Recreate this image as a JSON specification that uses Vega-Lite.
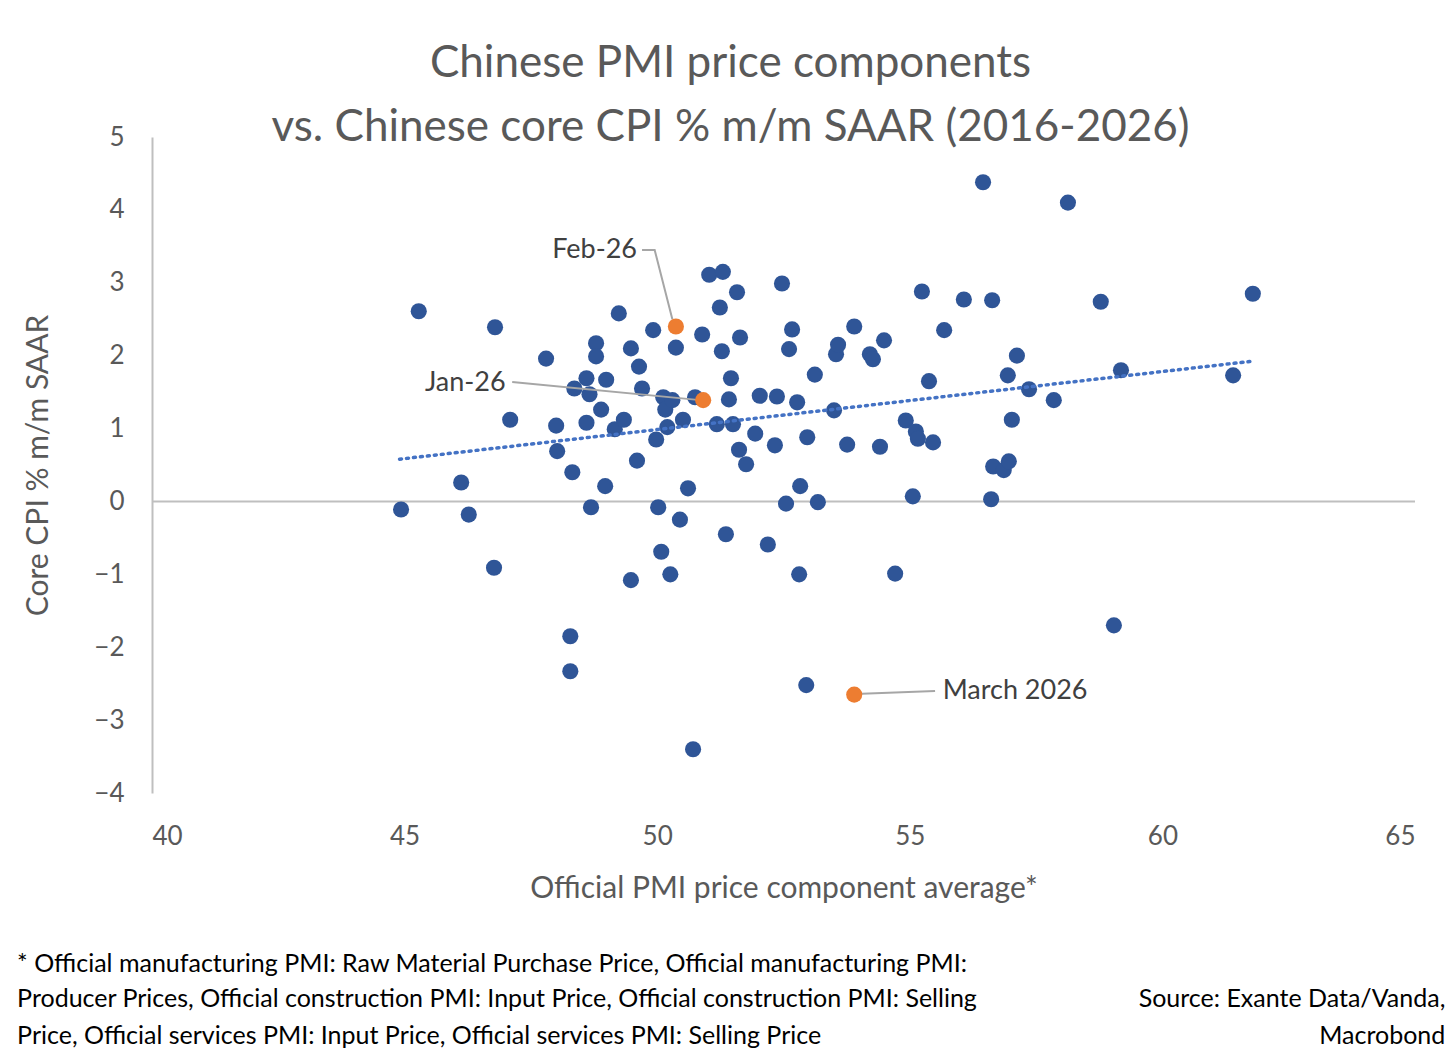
{
  "$schema": "https://vega.github.io/schema/vega-lite/v6.json",
  "width": 1263,
  "height": 656,
  "autosize": {"type": "none"},
  "padding": {"left": 152, "top": 137, "right": 41, "bottom": 261},
  "background": "white",
  "config": {"view": {"stroke": null}, "font": "Lato"},
  "title": {
    "text": ["Chinese PMI price components", "vs. Chinese core CPI % m/m SAAR (2016-2026)"],
    "fontSize": 44, "fontWeight": "normal", "color": "#595959",
    "lineHeight": 64, "anchor": "middle", "dx": -53, "offset": -26, "font": "Lato"
  },
  "datasets": {
    "pts": [
      {"x":44.93,"y":-0.11},{"x":45.28,"y":2.61},{"x":46.12,"y":0.26},{"x":46.27,"y":-0.18},{"x":46.77,"y":-0.91},
      {"x":46.79,"y":2.39},{"x":47.09,"y":1.12},{"x":47.8,"y":1.96},{"x":48.0,"y":1.04},{"x":48.02,"y":0.69},
      {"x":48.28,"y":-1.85},{"x":48.28,"y":-2.33},{"x":48.32,"y":0.4},{"x":48.36,"y":1.55},{"x":48.6,"y":1.69},
      {"x":48.6,"y":1.08},{"x":48.66,"y":1.47},{"x":48.69,"y":-0.08},{"x":48.79,"y":2.17},{"x":48.79,"y":1.99},
      {"x":48.89,"y":1.26},{"x":48.99,"y":1.67},{"x":48.97,"y":0.21},{"x":49.16,"y":0.99},{"x":49.24,"y":2.58},
      {"x":49.34,"y":1.12},{"x":49.48,"y":2.1},{"x":49.48,"y":-1.08},{"x":49.6,"y":0.56},{"x":49.64,"y":1.85},
      {"x":49.7,"y":1.55},{"x":49.92,"y":2.35},{"x":49.98,"y":0.85},{"x":50.02,"y":-0.08},{"x":50.08,"y":-0.69},
      {"x":50.12,"y":1.43},{"x":50.16,"y":1.26},{"x":50.2,"y":1.02},{"x":50.26,"y":-1.0},{"x":50.3,"y":1.39},
      {"x":50.37,"y":2.11},{"x":50.45,"y":-0.25},{"x":50.51,"y":1.12},{"x":50.61,"y":0.18},{"x":50.71,"y":-3.4},
      {"x":50.75,"y":1.43},{"x":50.89,"y":2.29},{"x":51.03,"y":3.11},{"x":51.18,"y":1.06},{"x":51.24,"y":2.66},
      {"x":51.28,"y":2.06},{"x":51.3,"y":3.15},{"x":51.36,"y":-0.45},{"x":51.42,"y":1.4},{"x":51.46,"y":1.69},
      {"x":51.5,"y":1.06},{"x":51.58,"y":2.87},{"x":51.64,"y":2.25},{"x":51.62,"y":0.71},{"x":51.76,"y":0.51},
      {"x":51.94,"y":0.93},{"x":52.03,"y":1.45},{"x":52.19,"y":-0.59},{"x":52.33,"y":0.77},{"x":52.37,"y":1.44},
      {"x":52.47,"y":2.99},{"x":52.55,"y":-0.03},{"x":52.61,"y":2.09},{"x":52.67,"y":2.36},{"x":52.77,"y":1.36},
      {"x":52.81,"y":-1.0},{"x":52.83,"y":0.21},{"x":52.95,"y":-2.52},{"x":52.97,"y":0.88},{"x":53.12,"y":1.74},
      {"x":53.18,"y":-0.01},{"x":53.5,"y":1.25},{"x":53.54,"y":2.02},{"x":53.58,"y":2.15},{"x":53.76,"y":0.78},
      {"x":53.9,"y":2.4},{"x":54.21,"y":2.02},{"x":54.27,"y":1.95},{"x":54.41,"y":0.75},{"x":54.49,"y":2.21},
      {"x":54.71,"y":-0.99},{"x":54.92,"y":1.11},{"x":55.06,"y":0.07},{"x":55.12,"y":0.96},{"x":55.16,"y":0.86},
      {"x":55.24,"y":2.88},{"x":55.38,"y":1.65},{"x":55.46,"y":0.81},{"x":55.68,"y":2.35},{"x":56.07,"y":2.77},
      {"x":56.45,"y":4.38},{"x":56.61,"y":0.03},{"x":56.63,"y":2.76},{"x":56.65,"y":0.48},{"x":56.86,"y":0.43},
      {"x":56.94,"y":1.73},{"x":56.96,"y":0.55},{"x":57.02,"y":1.12},{"x":57.12,"y":2.0},{"x":57.36,"y":1.54},
      {"x":57.85,"y":1.39},{"x":58.13,"y":4.1},{"x":58.78,"y":2.74},{"x":59.04,"y":-1.7},{"x":59.18,"y":1.8},
      {"x":61.4,"y":1.73},{"x":61.79,"y":2.85}
    ],
    "recent": [
      {"x":50.37,"y":2.4},{"x":50.91,"y":1.39},{"x":53.9,"y":-2.65}
    ],
    "trend": [{"x":44.9,"y":0.58},{"x":61.73,"y":1.92}],
    "leaders": [
      {"g":"feb","o":1,"x":49.7,"y":3.45},{"g":"feb","o":2,"x":49.95,"y":3.45},{"g":"feb","o":3,"x":50.3,"y":2.5},
      {"g":"jan","o":1,"x":47.13,"y":1.64},{"g":"jan","o":2,"x":50.85,"y":1.39},
      {"g":"mar2","o":1,"x":55.5,"y":-2.6},{"g":"mar2","o":2,"x":54.05,"y":-2.64}
    ],
    "labelsLeft": [
      {"t":"March 2026","x":55.65,"y":-2.6}
    ],
    "labelsRight": [
      {"t":"Feb-26","x":49.6,"y":3.45},
      {"t":"Jan-26","x":47.0,"y":1.62}
    ],
    "notesLeft": [
      {"t":"* Official manufacturing PMI: Raw Material Purchase Price, Official manufacturing PMI:","x":37.33,"y":-6.34},
      {"t":"Producer Prices, Official construction PMI: Input Price, Official construction PMI: Selling","x":37.33,"y":-6.83},
      {"t":"Price, Official services PMI: Input Price, Official services PMI: Selling Price","x":37.33,"y":-7.33}
    ],
    "notesRight": [
      {"t":"Source: Exante Data/Vanda,","x":65.6,"y":-6.83},
      {"t":"Macrobond","x":65.6,"y":-7.33}
    ]
  },
  "layer": [
    {
      "data": {"values": [{"y": 0}]},
      "mark": {"type": "rule", "color": "#bfbfbf", "strokeWidth": 2},
      "encoding": {"y": {"field": "y", "type": "quantitative", "scale": {"domain": [-4, 5]}}}
    },
    {
      "data": {"name": "pts"},
      "mark": {"type": "circle", "size": 260, "opacity": 1, "color": "#2F5597"},
      "encoding": {
        "x": {"field": "x", "type": "quantitative", "scale": {"domain": [40, 65], "nice": false},
          "axis": {"values": [40, 45, 50, 55, 60, 65], "domain": false, "ticks": false, "grid": false,
            "labelFontSize": 26, "labelColor": "#595959", "labelPadding": 30,
            "title": "Official PMI price component average*", "titleFontSize": 30, "titleFontWeight": "normal",
            "titleColor": "#595959", "titlePadding": 24}},
        "y": {"field": "y", "type": "quantitative", "scale": {"domain": [-4, 5], "nice": false},
          "axis": {"values": [-4, -3, -2, -1, 0, 1, 2, 3, 4, 5], "format": "d", "domainColor": "#bfbfbf", "domainWidth": 2,
            "ticks": false, "grid": false, "labelFontSize": 26, "labelColor": "#595959", "labelPadding": 28,
            "title": "Core CPI % m/m SAAR", "titleFontSize": 30, "titleFontWeight": "normal",
            "titleColor": "#595959", "titlePadding": 40}}
      }
    },
    {
      "data": {"name": "trend"},
      "mark": {"type": "line", "color": "#4472C4", "strokeWidth": 3.5, "strokeDash": [2, 5], "strokeCap": "round"},
      "encoding": {"x": {"field": "x", "type": "quantitative"}, "y": {"field": "y", "type": "quantitative"}}
    },
    {
      "data": {"name": "leaders"},
      "mark": {"type": "line", "color": "#a6a6a6", "strokeWidth": 2},
      "encoding": {
        "x": {"field": "x", "type": "quantitative"},
        "y": {"field": "y", "type": "quantitative"},
        "detail": {"field": "g"},
        "order": {"field": "o"}
      }
    },
    {
      "data": {"name": "recent"},
      "mark": {"type": "circle", "size": 260, "opacity": 1, "color": "#ED7D31"},
      "encoding": {"x": {"field": "x", "type": "quantitative"}, "y": {"field": "y", "type": "quantitative"}}
    },
    {
      "data": {"name": "labelsLeft"},
      "mark": {"type": "text", "fontSize": 27, "color": "#404040", "baseline": "middle", "align": "left"},
      "encoding": {"x": {"field": "x", "type": "quantitative"}, "y": {"field": "y", "type": "quantitative"}, "text": {"field": "t"}}
    },
    {
      "data": {"name": "labelsRight"},
      "mark": {"type": "text", "fontSize": 27, "color": "#404040", "baseline": "middle", "align": "right"},
      "encoding": {"x": {"field": "x", "type": "quantitative"}, "y": {"field": "y", "type": "quantitative"}, "text": {"field": "t"}}
    },
    {
      "data": {"name": "notesLeft"},
      "mark": {"type": "text", "fontSize": 25, "color": "#000000", "baseline": "middle", "align": "left", "clip": false},
      "encoding": {"x": {"field": "x", "type": "quantitative"}, "y": {"field": "y", "type": "quantitative"}, "text": {"field": "t"}}
    },
    {
      "data": {"name": "notesRight"},
      "mark": {"type": "text", "fontSize": 25, "color": "#000000", "baseline": "middle", "align": "right", "clip": false},
      "encoding": {"x": {"field": "x", "type": "quantitative"}, "y": {"field": "y", "type": "quantitative"}, "text": {"field": "t"}}
    }
  ]
}
